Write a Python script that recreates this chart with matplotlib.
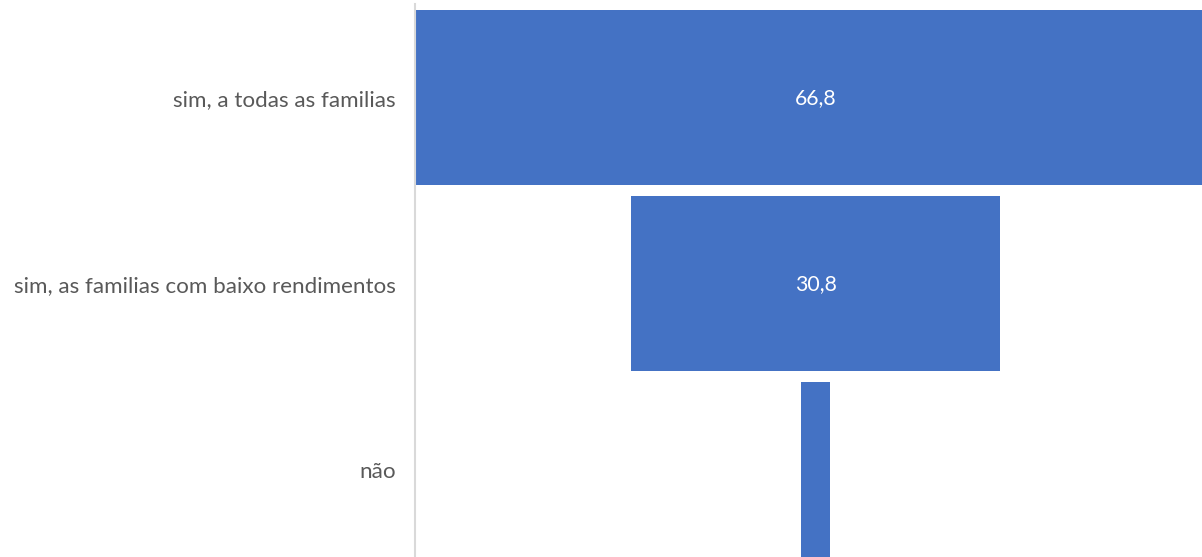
import matplotlib
matplotlib.use("Agg")
import matplotlib.pyplot as plt

categories = ["sim, a todas as familias", "sim, as familias com baixo rendimentos", "não"]
values = [66.8, 30.8, 2.4]
value_labels = ["66,8", "30,8", ""]

W, H = 1202, 557
fig = plt.figure(figsize=(W / 100, H / 100), dpi=100)

# axes geometry in pixels; the funnel runs past the right and bottom edges
ax_left, ax_top = 415, 4
band = 186
half_width_px = 400.5
px_per_unit = 11.99
ax_width = 2 * half_width_px
ax_height = band * len(categories)
ax = fig.add_axes([ax_left / W, 1 - (ax_top + ax_height) / H, ax_width / W, ax_height / H])

half = half_width_px / px_per_unit
ax.set_xlim(-half, half)
ax.set_ylim(len(categories) - 0.5, -0.5)

ys = range(len(categories))
lefts = [-v / 2 for v in values]
ax.barh(ys, values, left=lefts, height=175 / 186, color="#4472C4", edgecolor="none")

for y, v, lab in zip(ys, values, value_labels):
    if lab:
        ax.text(0, y + 0.008, lab, ha="center", va="center", color="white",
                fontsize=15.3, family="Lato")

ax.set_yticks([y + 0.008 for y in ys])
ax.set_yticklabels(categories, fontsize=16.1, color="#595959", family="Lato")
ax.tick_params(axis="y", length=0, pad=14)
ax.set_xticks([])
for s in ["top", "right", "bottom"]:
    ax.spines[s].set_visible(False)
ax.spines["left"].set_color("#D9D9D9")
ax.spines["left"].set_linewidth(1.5)

fig.savefig("out.png", dpi=100)
